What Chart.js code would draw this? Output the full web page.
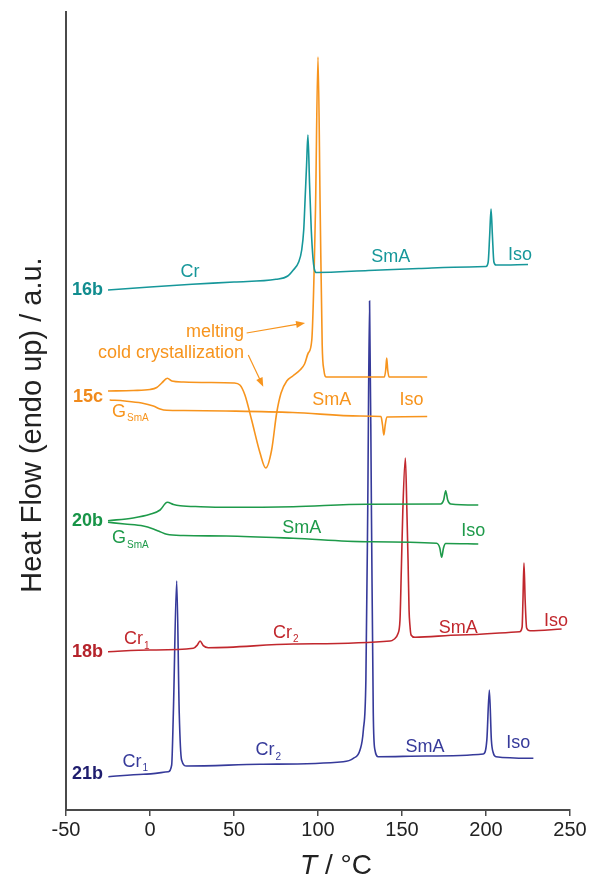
<!DOCTYPE html>
<html>
<head>
<meta charset="utf-8">
<script src="https://cdn.jsdelivr.net/npm/chart.js@4.4.1/dist/chart.umd.min.js"></script>
<style>
  html, body { margin: 0; padding: 0; background: #fff; }
</style>
</head>
<body>
<canvas id="dsc" width="595" height="882"></canvas>
<script>
// DSC traces, T in °C, heat flow in a.u. (offset per compound)
const t16b = [-25, 0, 25, 50, 75, 82, 85.3, 88.5, 90.3, 91.5, 92.3, 93.2, 94, 95, 96, 97, 97.8, 99, 130, 160, 190, 200, 201.3, 202.2, 203, 203.8, 204.7, 206, 225];
const hf16b = [520, 523, 525.7, 528, 530.7, 534, 540, 548, 560, 580, 610, 645, 675, 625, 580, 552, 541, 537.5, 539.5, 541.5, 543, 543.5, 548, 575, 601, 575, 548, 545, 545.5];

const t15cHeat = [-25, -10, 0, 4, 7, 10.3, 13, 20, 35, 50, 53.5, 56.5, 60.5, 65.5, 68.9, 72.4, 75.4, 78, 81.4, 85, 89.3, 92, 94.2, 96.3, 98.5, 100, 101.3, 102.5, 103.5, 105, 120, 139.5, 140.3, 140.9, 141.5, 142.3, 165];
const hf15cHeat = [419, 419.5, 420.5, 422.5, 427, 431.7, 429, 428, 427.5, 427, 425, 415, 390, 357, 342, 360, 397, 417, 429, 434, 440, 446, 457, 470, 600, 753, 600, 465, 440, 433, 433, 433, 440, 452, 440, 433, 433];
const t15cCool = [-24, -15, -5, 2, 6, 10, 20, 45, 85, 125, 137.5, 138.4, 139.2, 140, 141, 165];
const hf15cCool = [410, 409, 407, 404, 401, 399.7, 399.5, 399, 397.5, 394, 393.5, 385, 375, 385, 393, 393.5];

const t20bHeat = [-25, -10, 0, 6, 10.3, 14, 18, 30, 45.6, 85.3, 129, 173, 174.8, 176, 177.2, 179, 195.4];
const hf20bHeat = [289.3, 292, 295.7, 300, 307.7, 305.5, 304.3, 303.3, 302.7, 303.3, 305.7, 306, 310, 319.3, 310, 306, 305];
const t20bCool = [-25, -15, -4, 2, 6, 10, 20, 45.6, 85.3, 129, 170.6, 172.5, 173.6, 174.7, 176, 195.4];
const hf20bCool = [287.7, 286, 284, 281, 278.3, 275.7, 274.5, 274, 271.7, 268.3, 266.7, 262, 252.7, 262, 266.5, 266];

const t18b = [-25, 0, 25.8, 28.2, 29.8, 31.7, 34.7, 85.3, 142.9, 145, 147.5, 148.8, 149.6, 150.5, 152, 152.9, 153.6, 154.2, 154.7, 155.4, 157.7, 184.5, 220, 221.5, 222, 222.6, 223.3, 224.2, 226.2, 245];
const hf18b = [158.3, 160, 161.7, 165, 169, 164.3, 162.3, 166, 169, 170.5, 176, 190, 240, 300, 352, 300, 250, 200, 185, 175, 172.7, 175, 178.3, 183, 210, 247, 210, 182, 179.3, 181];

const t21b = [-24.8, -4, 10.9, 12.9, 13.9, 15.9, 17.4, 18.8, 21.8, 65.5, 115, 121, 125, 127, 128.5, 129.6, 130.7, 131.8, 132.9, 133.9, 135.9, 164.7, 198.4, 200.5, 202, 203.2, 204.4, 206, 228.2];
const hf21b = [33.3, 35.7, 38.3, 45, 97, 229, 97, 50, 44, 45.7, 48.3, 51.7, 60, 80, 130, 300, 509, 300, 97, 60, 53.3, 54, 56, 70, 120, 70, 56.7, 53.3, 51.7];

const compounds = ['16b', '15c', '20b', '18b', '21b'];
const compoundHf = [520, 413, 289, 158, 36];
const colors = ['#16979a', '#f7941d', '#1e9a4a', '#c1272d', '#363a9a'];
const nameColors = ['#118d8f', '#f08a1c', '#179447', '#b5232b', '#1f1d6e'];

// phase labels: text, subscript, T, heat flow, compound index
const phaseText = ['Cr', 'SmA', 'Iso', 'SmA', 'Iso', 'G', 'SmA', 'Iso', 'G', 'Cr', 'Cr', 'SmA', 'Iso', 'Cr', 'Cr', 'SmA', 'Iso'];
const phaseSub = ['', '', '', '', '', 'SmA', '', '', 'SmA', '1', '2', '', '', '1', '2', '', ''];
const phaseT = [23.8, 143.3, 220.2, 108.2, 155.7, -22.6, 90.3, 192.4, -22.6, -7.9, 80.8, 183.5, 241.7, -8.8, 70.4, 163.7, 219.2];
const phaseHf = [538, 552.7, 555, 409.5, 409.5, 398.3, 281.7, 279.3, 271.7, 170.7, 177.3, 181.7, 189.3, 48.3, 60, 63.3, 66.7];
const phaseOf = [0, 0, 0, 1, 1, 1, 2, 2, 2, 3, 3, 3, 3, 4, 4, 4, 4];

const toPts = (t, h) => t.map((x, i) => ({x: x, y: h[i]}));

const traces = [
  [t16b, hf16b, 0], [t15cHeat, hf15cHeat, 1], [t15cCool, hf15cCool, 1],
  [t20bHeat, hf20bHeat, 2], [t20bCool, hf20bCool, 2], [t18b, hf18b, 3], [t21b, hf21b, 4]
];

const FONT = '"Liberation Sans", Arial, sans-serif';

function richText(ctx, x, y, main, sub, size, color, align, bold) {
  ctx.fillStyle = color;
  ctx.textBaseline = 'middle';
  ctx.textAlign = 'left';
  const f1 = (bold ? 'bold ' : '') + size + 'px ' + FONT;
  const f2 = Math.round(size * 0.58) + 'px ' + FONT;
  ctx.font = f1;
  const w1 = ctx.measureText(main).width;
  ctx.font = f2;
  const w2 = sub ? ctx.measureText(sub).width + 1 : 0;
  let x0 = x;
  if (align === 'center') x0 = x - (w1 + w2) / 2;
  if (align === 'right') x0 = x - w1 - w2;
  ctx.font = f1;
  ctx.fillText(main, x0, y);
  if (sub) {
    ctx.font = f2;
    ctx.fillText(sub, x0 + w1 + 1, y + size * 0.38);
  }
}

function arrow(ctx, x1, y1, x2, y2, color) {
  const a = Math.atan2(y2 - y1, x2 - x1);
  ctx.strokeStyle = color;
  ctx.fillStyle = color;
  ctx.lineWidth = 1.2;
  ctx.beginPath();
  ctx.moveTo(x1, y1);
  ctx.lineTo(x2 - 7 * Math.cos(a), y2 - 7 * Math.sin(a));
  ctx.stroke();
  ctx.beginPath();
  ctx.moveTo(x2, y2);
  ctx.lineTo(x2 - 9 * Math.cos(a) + 3.5 * Math.sin(a), y2 - 9 * Math.sin(a) - 3.5 * Math.cos(a));
  ctx.lineTo(x2 - 9 * Math.cos(a) - 3.5 * Math.sin(a), y2 - 9 * Math.sin(a) + 3.5 * Math.cos(a));
  ctx.closePath();
  ctx.fill();
}

const labelPlugin = {
  id: 'labels',
  afterDraw(chart) {
    const ctx = chart.ctx;
    const xs = chart.scales.x, ys = chart.scales.y;
    const px = t => xs.getPixelForValue(t);
    const py = v => ys.getPixelForValue(v);
    ctx.save();

    compounds.forEach((c, i) => {
      richText(ctx, px(-28), py(compoundHf[i]), c, '', 18, nameColors[i], 'right', true);
    });

    phaseText.forEach((txt, i) => {
      const align = txt === 'G' ? 'left' : 'center';
      richText(ctx, px(phaseT[i]), py(phaseHf[i]), txt, phaseSub[i], 18, colors[phaseOf[i]], align, false);
    });

    // annotations on 15c
    richText(ctx, px(56), py(478), 'melting', '', 18, colors[1], 'right', false);
    richText(ctx, px(56), py(456.7), 'cold crystallization', '', 18, colors[1], 'right', false);
    arrow(ctx, px(57.5), py(477), px(92.3), py(487), colors[1]);
    arrow(ctx, px(58.5), py(455), px(67.4), py(423.3), colors[1]);

    // axis titles
    ctx.fillStyle = '#222';
    ctx.textBaseline = 'alphabetic';
    ctx.font = 'italic 28px ' + FONT;
    const wT = ctx.measureText('T').width;
    ctx.font = '28px ' + FONT;
    const wR = ctx.measureText(' / °C').width;
    const x0 = 336 - (wT + wR) / 2;
    ctx.font = 'italic 28px ' + FONT;
    ctx.fillText('T', x0, 874);
    ctx.font = '28px ' + FONT;
    ctx.fillText(' / °C', x0 + wT, 874);

    ctx.translate(33, 425);
    ctx.rotate(-Math.PI / 2);
    ctx.textAlign = 'center';
    ctx.textBaseline = 'middle';
    ctx.font = '29px ' + FONT;
    ctx.fillText('Heat Flow (endo up) / a.u.', 0, 0);
    ctx.restore();
  }
};

new Chart(document.getElementById('dsc'), {
  type: 'line',
  data: {
    datasets: traces.map(tr => ({
      data: toPts(tr[0], tr[1]),
      borderColor: colors[tr[2]],
      borderWidth: 1.6,
      fill: false,
      pointRadius: 0,
      cubicInterpolationMode: 'monotone'
    }))
  },
  options: {
    responsive: false,
    animation: false,
    devicePixelRatio: 1,
    layout: { padding: { left: 66, right: 25, top: 12, bottom: 0 } },
    plugins: { legend: { display: false }, tooltip: { enabled: false } },
    scales: {
      x: {
        type: 'linear', min: -50, max: 250,
        ticks: { stepSize: 50, color: '#222', font: { family: FONT, size: 20 }, padding: 2 },
        grid: { drawOnChartArea: false, drawTicks: true, tickLength: 6, color: '#4a4a4a', lineWidth: 1.5 },
        border: { color: '#4a4a4a', width: 2 },
        afterFit: s => { s.height = 72; }
      },
      y: {
        min: 0, max: 798,
        ticks: { display: false },
        grid: { drawOnChartArea: false, drawTicks: false },
        border: { color: '#4a4a4a', width: 2 },
        afterFit: s => { s.width = 0; }
      }
    }
  },
  plugins: [labelPlugin]
});
</script>
</body>
</html>
